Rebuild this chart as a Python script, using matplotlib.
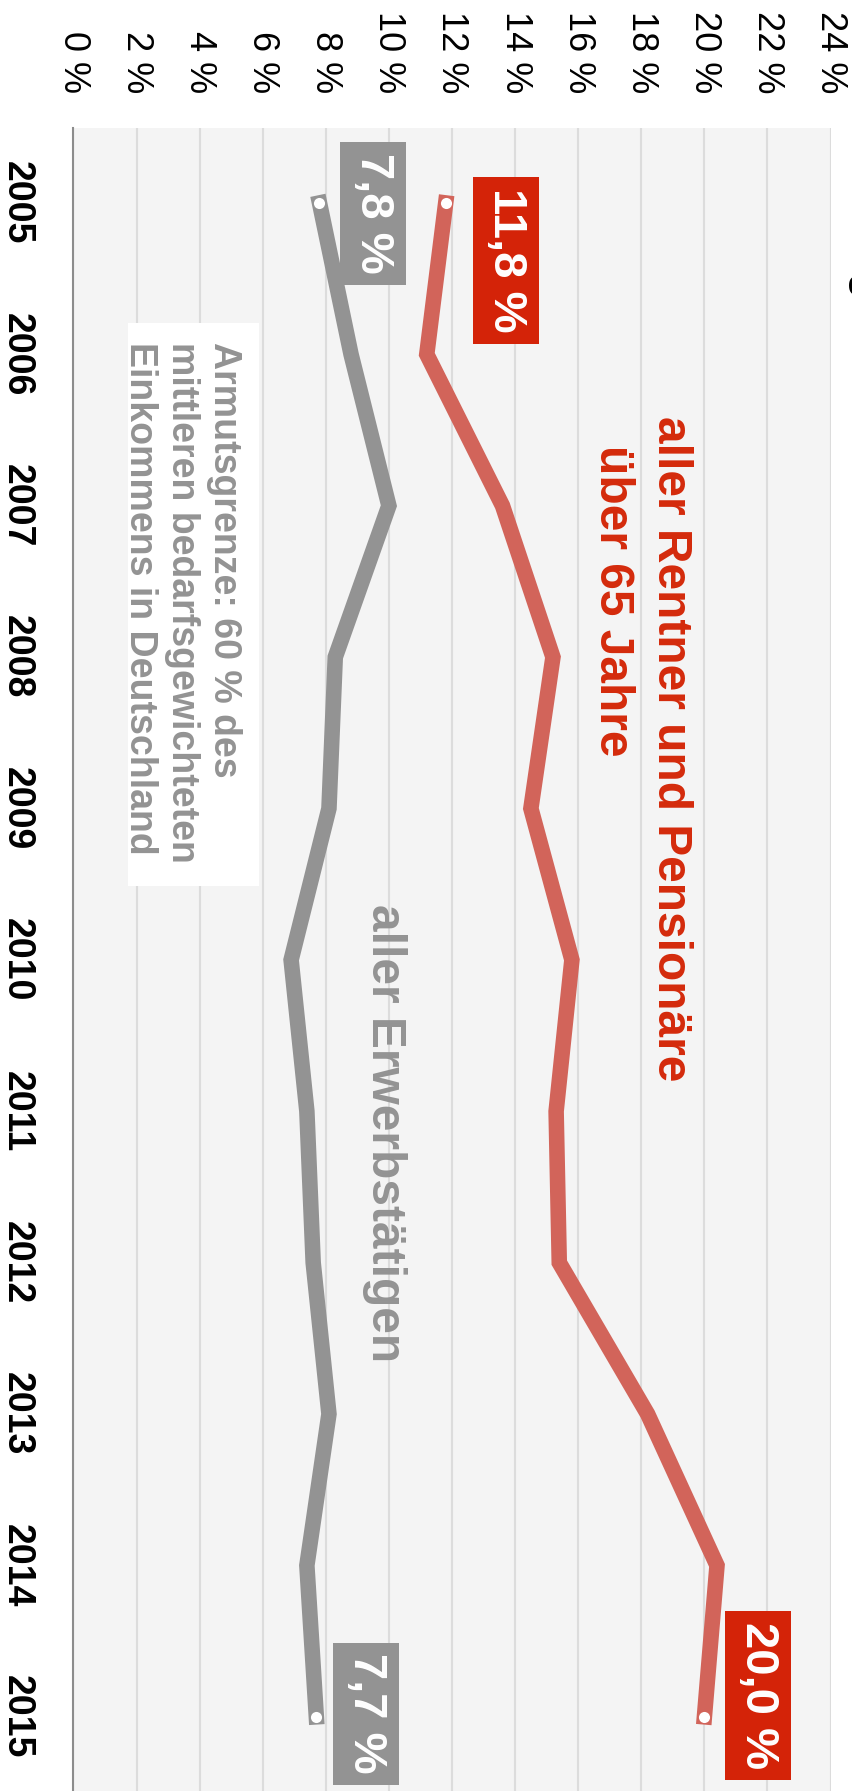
import matplotlib
matplotlib.use("Agg")
import matplotlib.pyplot as plt
from matplotlib.patches import Rectangle

plt.rcParams['font.family'] = ['Liberation Sans', 'DejaVu Sans']

# Armutsgefaehrdung in Deutschland, Anteil in %
years = [2005, 2006, 2007, 2008, 2009, 2010, 2011, 2012, 2013, 2014, 2015]
erwerbstaetige = [7.8, 8.8, 10.0, 8.3, 8.1, 6.9, 7.4, 7.6, 8.1, 7.4, 7.7]
rentner = [11.8, 11.2, 13.6, 15.2, 14.5, 15.8, 15.3, 15.4, 18.2, 20.4, 20.0]
pct_ticks = list(range(0, 25, 2))
pct_labels = [f"{v} %" for v in pct_ticks]

GREY = '#939393'
RED_LINE = '#d2645a'
RED = '#d42308'
RED_TXT = '#d42a0b'

fig = plt.figure(figsize=(8.53, 17.91), dpi=100)
ax = fig.add_axes([73.4 / 853, 0, 757.2 / 853, 1663 / 1791])
ax.set_facecolor('#f4f4f4')
ax.set_xlim(0, 24)
ax.set_ylim(2015.49, 2004.505)

# x-Achse (Prozent) oben, gedreht
ax.xaxis.tick_top()
ax.set_xticks(pct_ticks)
ax.set_xticklabels(pct_labels, fontsize=26, rotation=-90)
ax.tick_params(axis='x', length=0, pad=25)
ax.set_yticks(years)
ax.set_yticklabels([str(y) for y in years], fontsize=27, fontweight='bold', rotation=-90)
ax.tick_params(axis='y', length=0, pad=28)
for lab in ax.get_yticklabels():
    lab.set_va('center')

ax.grid(axis='x', color='#dcdcdc', lw=1.5)
ax.grid(axis='y', visible=False)
ax.set_axisbelow(True)
for s in ['top', 'right', 'bottom']:
    ax.spines[s].set_visible(False)
ax.spines['left'].set_color('#8c8c8c')
ax.spines['left'].set_linewidth(1.5)

# Hinweisbox
ax.add_patch(Rectangle((1.73, 2005.79), 4.15, 3.72, fc='white', ec='none', zorder=1))
ax.text(5.34, 2005.92, "Armutsgrenze: 60 % des\nmittleren bedarfsgewichteten\nEinkommens in Deutschland",
        rotation=-90, rotation_mode='anchor', ha='left', va='top', fontsize=27,
        fontweight='bold', color=GREY, linespacing=1.22, zorder=2)

# Linien
ax.plot(erwerbstaetige, years, color=GREY, lw=11.2, solid_joinstyle='miter',
        solid_capstyle='projecting', zorder=3)
ax.plot(rentner, years, color=RED_LINE, lw=11.2, solid_joinstyle='miter',
        solid_capstyle='projecting', zorder=3)
for series in (erwerbstaetige, rentner):
    ax.plot([series[0], series[-1]], [years[0], years[-1]], 'o', color='white',
            ms=8, mec='none', zorder=4)

# Wertelabels
box_kw = dict(rotation=-90, ha='center', va='center', fontsize=34,
              fontweight='bold', color='white', zorder=5)
ax.text(9.50, 2005.07, "7,8 %", bbox=dict(boxstyle='square,pad=0.23', fc=GREY, ec='none'), **box_kw)
ax.text(13.71, 2005.38, "11,8 %", bbox=dict(boxstyle='square,pad=0.23', fc=RED, ec='none'), **box_kw)
ax.text(21.70, 2014.86, "20,0 %", bbox=dict(boxstyle='square,pad=0.23', fc=RED, ec='none'), **box_kw)
ax.text(9.27, 2014.98, "7,7 %", bbox=dict(boxstyle='square,pad=0.23', fc=GREY, ec='none'), **box_kw)

# Serienbeschriftungen
lab_kw = dict(rotation=-90, rotation_mode='anchor', ha='left', va='baseline',
              fontsize=34.5, fontweight='bold', zorder=5)
ax.text(18.53, 2006.41, "aller Rentner und Pensionäre", color=RED_TXT, **lab_kw)
ax.text(16.68, 2006.60, "über 65 Jahre", color=RED_TXT, **lab_kw)
ax.text(9.46, 2009.63, "aller Erwerbstätigen", color=GREY, **lab_kw)

# Titel (rechts, wie im Original fast ganz abgeschnitten)
ax.text(24.77, 2004.54, "Armutsgefährdet", rotation=-90, rotation_mode='anchor',
        ha='left', va='baseline', fontsize=29, fontweight='bold', color='black')

fig.savefig('out.png', dpi=100, facecolor='white')
